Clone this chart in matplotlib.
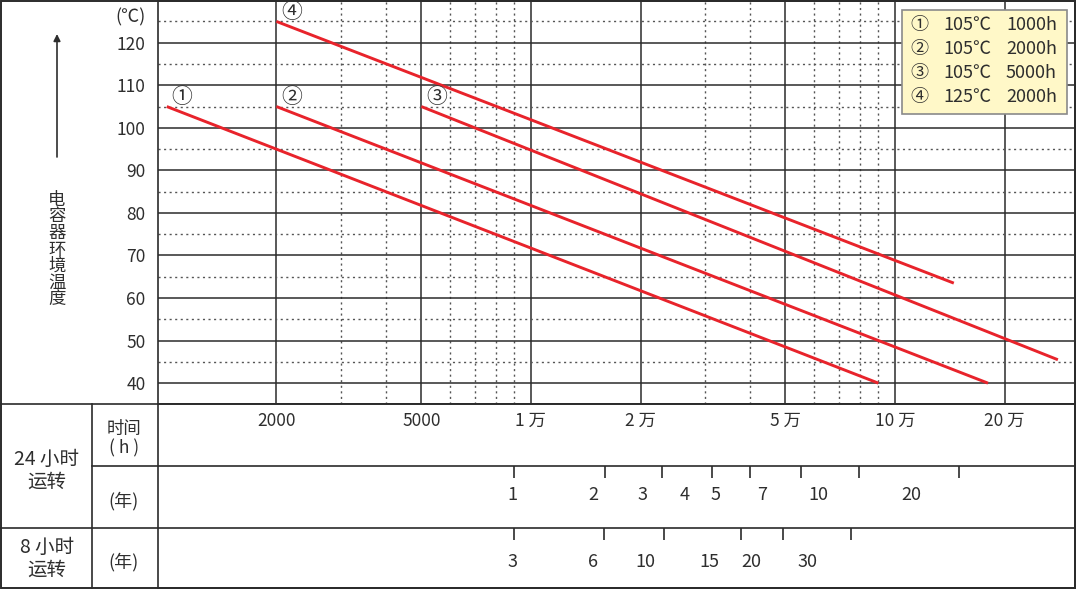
import matplotlib
matplotlib.use("Agg")
import matplotlib.pyplot as plt
from matplotlib.patches import Rectangle
from matplotlib.ticker import NullLocator

plt.rcParams['font.family'] = ['Noto Sans CJK SC', 'DejaVu Sans']

# 寿命曲线 (起点 -> 终点)
curve_names = ['①', '②', '③', '④']
curve_hours = [[1000, 90000], [2000, 180000], [5000, 280000], [2000, 145000]]
curve_temps = [[105, 40], [105, 40], [105, 45.5], [125, 63.5]]

legend_temps = ['105℃', '105℃', '105℃', '125℃']
legend_hours = ['1000h', '2000h', '5000h', '2000h']

temp_ticks = [40, 50, 60, 70, 80, 90, 100, 110, 120]
temp_minor = [45, 55, 65, 75, 85, 95, 105, 115, 125]

hour_major = [2000, 5000, 10000, 20000, 50000, 100000, 200000]
hour_labels = ['2000', '5000', '1 万', '2 万', '5 万', '10 万', '20 万']
hour_minor = [3000, 4000, 6000, 7000, 8000, 9000,
              30000, 40000, 60000, 70000, 80000, 90000]

# 24 小时运转 (年)
y24_ticks = [9000, 16000, 22900, 31400, 40000, 55200, 79500, 150000]
y24_label_hours = [8900, 14800, 20200, 26400, 32100, 43200, 61600, 111000]
y24_labels = ['1', '2', '3', '4', '5', '7', '10', '20']
# 8 小时运转 (年)
y8_ticks = [9000, 15900, 23200, 37700, 49300, 75600]
y8_label_hours = [8900, 14800, 20600, 30900, 40200, 57500]
y8_labels = ['3', '6', '10', '15', '20', '30']

ylabel_text = '电容器环境温度'

RED = '#e8232b'
TXT = '#2e2e2e'
GRID = '#2b2b2b'
DOT = '#555555'
W, H = 1080, 590
XLIM = (946, 312000)


def box(l, t, r, b):
    return [l / W, 1 - b / H, (r - l) / W, (b - t) / H]


fig = plt.figure(figsize=(10.8, 5.9), dpi=100)

# ---- main chart ----
ax = fig.add_axes(box(158, 1, 1075, 404))
ax.set_xscale('log')
ax.set_xlim(*XLIM)
ax.set_ylim(35.1, 129.8)
for h in hour_major:
    ax.axvline(h, color=GRID, lw=1.1, zorder=1)
for h in hour_minor:
    ax.axvline(h, color=DOT, lw=1.0, ls=(0, (1.5, 2.5)), zorder=1)
for t in temp_ticks:
    ax.axhline(t, color=GRID, lw=1.1, zorder=1)
for t in temp_minor:
    ax.axhline(t, color=DOT, lw=1.0, ls=(0, (1.5, 2.5)), zorder=1)

for name, hs, ts in zip(curve_names, curve_hours, curve_temps):
    ax.plot(hs, ts, color=RED, lw=2.1, solid_capstyle='butt', zorder=3)
    ax.annotate(name, (hs[0], ts[0]), xytext=(11, 7), textcoords='offset points',
                ha='center', va='center', fontsize=15, color=TXT, zorder=4)

ax.set_yticks(temp_ticks)
ax.set_xticks([])
ax.xaxis.set_minor_locator(NullLocator())
ax.tick_params(axis='y', length=0, pad=9, labelsize=12.5, labelcolor=TXT)
ax.annotate('(℃)', xy=(0, 126), xycoords=('axes fraction', 'data'),
            xytext=(-9, 0), textcoords='offset points',
            ha='right', va='center', fontsize=13, color=TXT)
for s in ax.spines.values():
    s.set_color(GRID)
    s.set_linewidth(1.2)

# ---- table below ----
tb = fig.add_axes(box(158, 404, 1075, 588))
tb.set_xscale('log')
tb.set_xlim(*XLIM)
tb.set_ylim(588, 404)
tb.set_xticks([])
tb.set_yticks([])
tb.xaxis.set_minor_locator(NullLocator())
for h, lab in zip(hour_major, hour_labels):
    tb.text(h, 421, lab, ha='center', va='center', fontsize=12.5, color=TXT)
tb.vlines(y24_ticks, 466, 478, color=GRID, lw=1.2)
for h, lab in zip(y24_label_hours, y24_labels):
    tb.text(h, 495, lab, ha='center', va='center', fontsize=13, color=TXT)
tb.vlines(y8_ticks, 528, 540, color=GRID, lw=1.2)
for h, lab in zip(y8_label_hours, y8_labels):
    tb.text(h, 562, lab, ha='center', va='center', fontsize=13, color=TXT)
for s in tb.spines.values():
    s.set_color(GRID)
    s.set_linewidth(1.2)

# ---- overlay: frame, left captions, legend ----
ov = fig.add_axes([0, 0, 1, 1], zorder=5)
ov.set_xlim(0, W)
ov.set_ylim(H, 0)
ov.axis('off')
ov.add_patch(Rectangle((1, 1), 1074, 587, fill=False, ec=GRID, lw=1.4))
ov.plot([0, 1075], [404, 404], color=GRID, lw=1.2)
ov.plot([92, 1075], [466, 466], color=GRID, lw=1.2)
ov.plot([0, 1075], [528, 528], color=GRID, lw=1.2)
ov.plot([92, 92], [404, 588], color=GRID, lw=1.2)

ov.annotate('', xy=(57, 34), xytext=(57, 157),
            arrowprops=dict(arrowstyle='-|>', color=TXT, lw=1.2,
                            mutation_scale=10, shrinkA=0, shrinkB=0))
for i, ch in enumerate(ylabel_text):
    ov.text(57, 200 + i * 16.5, ch, ha='center', va='center',
            fontsize=12.5, color=TXT)

ov.text(47, 471, '24 小时\n运转', ha='center', va='center', fontsize=14,
        color=TXT, linespacing=1.1)
ov.text(124, 439, '时间\n( h )', ha='center', va='center', fontsize=12.5,
        color=TXT, linespacing=1.1)
ov.text(124, 501, '(年)', ha='center', va='center', fontsize=13, color=TXT)
ov.text(47, 559, '8 小时\n运转', ha='center', va='center', fontsize=14,
        color=TXT, linespacing=1.1)
ov.text(124, 562, '(年)', ha='center', va='center', fontsize=13, color=TXT)

ov.add_patch(Rectangle((902, 10), 165, 104, fc='#fff8c8', ec='#8a8a8a', lw=1.2))
for i, (name, tt, hh) in enumerate(zip(curve_names, legend_temps, legend_hours)):
    yy = 25 + i * 24
    ov.text(919, yy, name, ha='center', va='center', fontsize=13, color=TXT)
    ov.text(967, yy, tt, ha='center', va='center', fontsize=13, color=TXT)
    ov.text(1057, yy, hh, ha='right', va='center', fontsize=13, color=TXT)

fig.savefig('out.png', dpi=100)
